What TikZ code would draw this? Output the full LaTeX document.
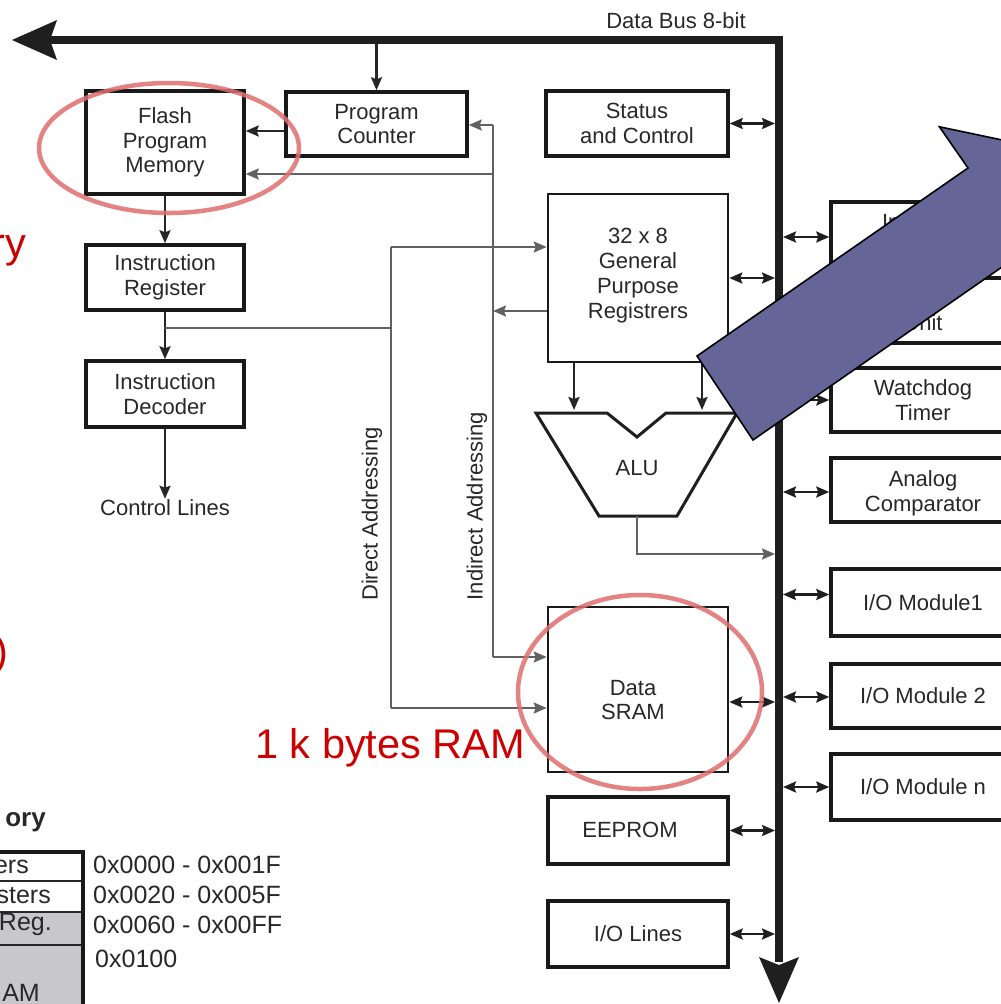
\documentclass[tikz,border=0pt]{standalone}
\usepackage{fontspec}
\setmainfont{Liberation Sans}
\usetikzlibrary{arrows.meta}
\definecolor{arrowblue}{RGB}{101,101,152}
\definecolor{ellred}{RGB}{224,110,110}
\definecolor{txtred}{RGB}{204,0,0}
\definecolor{tablegray}{RGB}{200,200,204}
\definecolor{ink}{RGB}{40,40,40}
\tikzset{
  box/.style={draw=black!90, line width=3.5pt, align=center, inner sep=0pt, text=ink},
  rbox/.style={box, minimum width=184pt},
  txt/.style={align=center, inner sep=0pt, text=ink},
  link/.style={line width=2.2pt, draw=black!85},
  glink/.style={line width=2pt, draw=black!62},
  arr/.style={-{Stealth[length=13pt,width=11pt,inset=2pt]}},
  dbl/.style={line width=2.3pt, draw=black!88, {Stealth[length=13pt,width=11pt,inset=2pt]}-{Stealth[length=13pt,width=11pt,inset=2pt]}},
  redtxt/.style={text=txtred, inner sep=0pt, font=\fontsize{41.5}{45}\selectfont},
  ell/.style={draw=ellred, line width=4.5pt, opacity=0.85},
}
\begin{document}
\begin{tikzpicture}[x=1pt,y=-1pt,font=\fontsize{22}{24.8}\selectfont]
\useasboundingbox (0,0) rectangle (1001,1004);
\fill[white] (0,0) rectangle (1001,1004);

% ---- bus
\coordinate (busC) at (779,40);
\coordinate (busin) at (775,0);
\coordinate (busout) at (783,0);
\draw[line width=8pt, black!88, line join=miter] (50,40) -- (busC) -- (779,962);
\fill[black!88] (12,40) -- (57,20) -- (50,40) -- (57,60) -- cycle;
\fill[black!88] (779,1003) -- (759,957) -- (779,965) -- (799,957) -- cycle;
\node[txt, anchor=base] (buslabel) at (676,28) {Data Bus 8-bit};

% ---- left column
\node[box, minimum width=158pt, minimum height=103pt] (flash) at (165,142.5) {Flash\\Program\\Memory};
\node[box, minimum width=158pt, minimum height=65pt] (ir) at (165,277.5) {Instruction\\Register};
\node[box, minimum width=158pt, minimum height=66pt] (dec) at (165,394) {Instruction\\Decoder};
\node[txt, inner sep=1pt] (ctrl) at (165,508) {Control Lines};
\node[box, minimum width=181pt, minimum height=64pt] (pc) at (376.5,124) {Program\\Counter};

% ---- middle column
\node[box, minimum width=182pt, minimum height=65pt] (status) at (637,123.5) {Status\\and Control};
\node[box, line width=2.6pt, minimum width=180pt, minimum height=168pt] (gpr) at (638,278) {};
\node[txt] (gprtxt) at (638,275.5) {32 x 8\\General\\Purpose\\Registrers};
\node[box, line width=2.6pt, minimum width=180pt, minimum height=165pt] (sram) at (638,689.5) {};
\node[txt] (sramtxt) at (633,700) {Data\\SRAM};
\node[box, minimum width=180pt, minimum height=67pt] (eeprom) at (638,830.5) {};
\node[txt] (eetxt) at (630,830) {EEPROM};
\node[box, minimum width=180pt, minimum height=66pt] (iol) at (638,934) {I/O Lines};

% ALU
\draw[line width=3pt, black!88, line join=miter] (536,413) -- (607,413) -- (637,437) -- (666,413) -- (737,413) -- (677,516) -- (599,516) -- cycle;
\node[txt] (alu) at (637,468) {ALU};

% ---- right column
\node[rbox, minimum height=65pt] (intu) at (923,234.5) {Interrupt\\Unit};
\node[rbox, minimum height=65pt] (spi) at (923,310.5) {SPI\\Unit};
\node[rbox, minimum height=64pt] (wdt) at (923,400) {Watchdog\\Timer};
\node[rbox, minimum height=64pt] (acmp) at (923,490) {};
\node[txt] (acmptxt) at (923,493) {Analog\\Comparator};
\node[rbox, minimum height=67pt] (io1) at (923,602.5) {I/O Module1};
\node[rbox, minimum height=64pt] (io2) at (923,696) {I/O Module 2};
\node[rbox, minimum height=66pt] (ion) at (923,787) {I/O Module n};

% ---- connectors
\coordinate (pcdrop) at (376.5,44);
\draw[link, arr] (pcdrop) -- (pc.north);
\draw[link, arr] ([yshift=-7pt]pc.west) -- ([yshift=-7pt]pc.west -| flash.east);
\draw[link, arr] (flash.south) -- (ir.north);
\draw[link, arr] (ir.south) -- (dec.north);
\draw[link, arr] (dec.south) -- (ctrl.north);

% indirect addressing
\coordinate (ind1) at (493,125);
\coordinate (ind2) at (493,174);
\coordinate (ind3) at (493,311);
\coordinate (ind4) at (493,657);
\draw[glink] (ind1) -- (ind4);
\draw[glink, arr] (ind1) -- (ind1 -| pc.east);
\draw[glink, arr] (ind2) -- (ind2 -| flash.east);
\draw[glink, arr] (ind3 -| gpr.west) -- (ind3);
\draw[glink, arr] (ind4) -- (ind4 -| sram.west);
\node[txt, rotate=90] (indlabel) at (477,506) {Indirect Addressing};

% direct addressing
\coordinate (dj) at (165,328);
\coordinate (d1) at (391,247);
\coordinate (d2) at (391,328);
\coordinate (d3) at (391,708);
\draw[glink] (dj) -- (d2);
\draw[glink] (d1) -- (d3);
\draw[glink, arr] (d1) -- (d1 -| gpr.west);
\draw[glink, arr] (d3) -- (d3 -| sram.west);
\node[txt, rotate=90] (dirlabel) at (372,514) {Direct Addressing};

% GPR -> ALU
\coordinate (alu1) at (574,410);
\coordinate (alu2) at (702,410);
\draw[link, arr] (alu1 |- gpr.south) -- (alu1);
\draw[link, arr] (alu2 |- gpr.south) -- (alu2);
\coordinate (aluout) at (637,516);
\coordinate (aluc) at (637,554);
\draw[glink, arr] (aluout) -- (aluc) -- (aluc -| busin);

% bus double arrows (left side)
\draw[dbl] (status.east) -- (status.east -| busin);
\draw[dbl] (gpr.east) -- (gpr.east -| busin);
\draw[dbl] ([yshift=-12.5pt]sram.east) -- ([yshift=-12.5pt]sram.east -| busin);
\draw[dbl] (eeprom.east) -- (eeprom.east -| busin);
\draw[dbl] (iol.east) -- (iol.east -| busin);
% bus double arrows (right side)
\draw[dbl] ([yshift=-2.5pt]intu.west -| busout) -- ([yshift=-2.5pt]intu.west);
\draw[dbl] (spi.west -| busout) -- (spi.west);
\draw[dbl] (wdt.west -| busout) -- (wdt.west);
\draw[dbl] ([yshift=-2pt]acmp.west -| busout) -- ([yshift=-2pt]acmp.west);
\draw[dbl] ([yshift=8pt]io1.west -| busout) -- ([yshift=8pt]io1.west);
\draw[dbl] ([yshift=-1pt]io2.west -| busout) -- ([yshift=-1pt]io2.west);
\draw[dbl] (ion.west -| busout) -- (ion.west);

% ---- memory map fragment (bottom left)
\node[txt, anchor=base east, font=\fontsize{26}{28}\selectfont\bfseries] (memtitle) at (46,826) {ory};
\fill[white] (-5,852) rectangle (83,912);
\fill[tablegray] (-5,912) rectangle (83,1010);
\draw[line width=1.8pt, black!85] (-5,881) -- (83,881);
\draw[line width=1.8pt, black!85] (-5,912) -- (83,912);
\draw[line width=1.8pt, black!85] (-5,945) -- (83,945);
\draw[line width=3.5pt, black!90] (-5,852) -- (83,852) -- (83,1010);
\begin{scope}[font=\fontsize{25}{27}\selectfont]
\node[txt, anchor=base east] (row1) at (29,873) {ers};
\node[txt, anchor=base east] (row2) at (51,903) {sters};
\node[txt, anchor=base east] (row3) at (52,930) {Reg.};
\node[txt, anchor=base east] (row4) at (40,1001) {AM};
\node[txt, anchor=base west] (a1) at (93,873) {0x0000 - 0x001F};
\node[txt, anchor=base west] (a2) at (93,903) {0x0020 - 0x005F};
\node[txt, anchor=base west] (a3) at (93,933) {0x0060 - 0x00FF};
\node[txt, anchor=base west] (a4) at (95,967) {0x0100};
\end{scope}

% ---- red annotations
\node[redtxt, anchor=base east] (flashnote) at (26,257) {ry};
\node[redtxt, anchor=base east] (paren) at (9,665) {)};
\node[redtxt, anchor=base west] (ramnote) at (255,758) {1 k bytes RAM};
\draw[ell] (169,148) ellipse [x radius=130pt, y radius=65pt];
\draw[ell] (640,692) ellipse [x radius=122pt, y radius=97pt];

% ---- big block arrow
\filldraw[fill=arrowblue, draw=black, line width=1.6pt, line join=miter]
  (753,440) -- (697,356) -- (968,168) -- (939.4,126.8) -- (1075,155.3) -- (1053.6,292) -- (1025,251) -- cycle;
\end{tikzpicture}
\end{document}
